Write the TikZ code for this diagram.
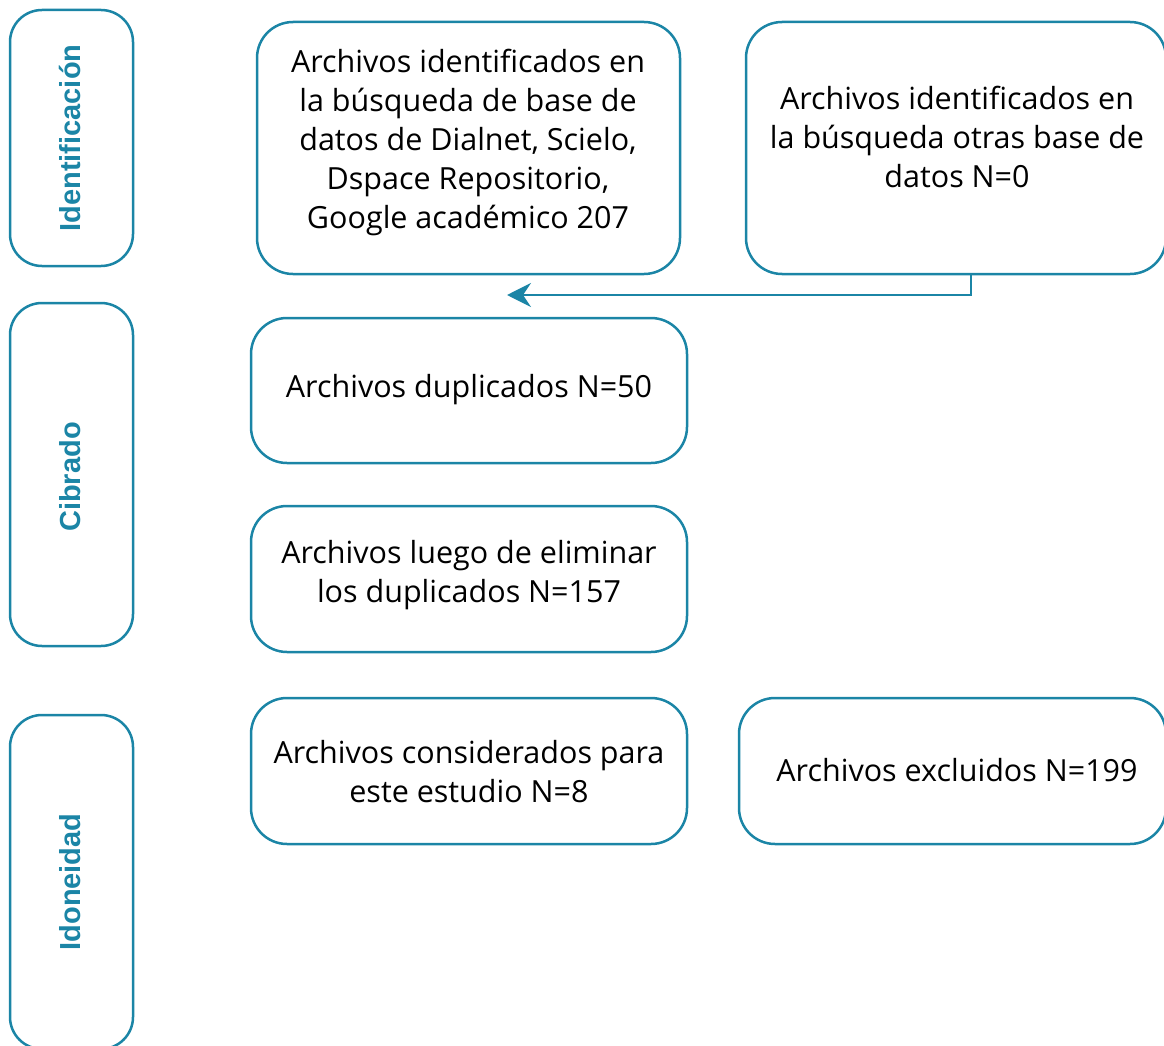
\documentclass[tikz,border=0pt]{standalone}
\usepackage{fontspec}
\setmainfont{Open Sans}
\newfontfamily\sidefnt{Liberation Sans}[BoldFont={Liberation Sans Bold}]
\usetikzlibrary{arrows.meta}
\definecolor{teal1}{HTML}{1B85A6}
\begin{document}
\begin{tikzpicture}[x=1pt,y=-1pt,
  box/.style={draw=teal1,line width=2.5pt,rounded corners=36pt,inner sep=0pt},
  sidebox/.style={draw=teal1,line width=2.5pt,rounded corners=32pt,inner sep=0pt,minimum width=123pt},
  sidelab/.style={rotate=90,text=teal1,font=\sidefnt\bfseries\fontsize{29}{30}\selectfont,inner sep=0pt},
  body/.style={align=center,font=\fontsize{30.5}{39}\selectfont,inner sep=0pt,text=black,yshift=-3pt}]
\useasboundingbox (0,0) rectangle (1164,1046);
\clip (0,0) rectangle (1164,1046);
% side boxes
\node[sidebox,minimum height=256pt] (s1) at (71.5,138) {};
\node[sidebox,minimum height=343pt] (s2) at (71.5,474.5) {};
\node[sidebox,minimum height=334pt] (s3) at (71.5,882) {};
\node[sidelab] (l1) at (70,138) {Identificación};
\node[sidelab] (l2) at (70,477) {Cibrado};
\node[sidelab] (l3) at (70,882) {Idoneidad};
% main boxes
\node[box,minimum width=423pt,minimum height=252pt] (a) at (468.5,148) {};
\node[box,minimum width=420pt,minimum height=252pt] (b) at (956,148) {};
\node[box,minimum width=436pt,minimum height=145pt] (c) at (469,390.5) {};
\node[box,minimum width=436pt,minimum height=146pt] (d) at (469,579) {};
\node[box,minimum width=436pt,minimum height=146pt] (e) at (469,771) {};
\node[box,minimum width=427pt,minimum height=146pt] (f) at (952.5,771) {};
% texts
\node[body] (ta) at (468,139) {Archivos identificados en\\la búsqueda de base de\\datos de Dialnet, Scielo,\\Dspace Repositorio,\\Google académico 207};
\node[body] (tb) at (957,134) {Archivos identificados en\\la búsqueda otras base de\\datos N=0};
\node[body] (tc) at (469,387) {Archivos duplicados N=50};
\node[body] (td) at (469,572) {Archivos luego de eliminar\\los duplicados N=157};
\node[body] (te) at (469,768.5) {Archivos considerados para\\este estudio N=8};
\node[body] (tf) at (957,767) {Archivos excluidos N=199};
% arrow
\coordinate (bend) at (971,295);
\coordinate (tip) at (507,295);
\draw[teal1,line width=2.5pt,-{Stealth[length=24pt,width=24pt,inset=8pt]}] (b.south -| bend) -- (bend) -- (tip);
\end{tikzpicture}
\end{document}
